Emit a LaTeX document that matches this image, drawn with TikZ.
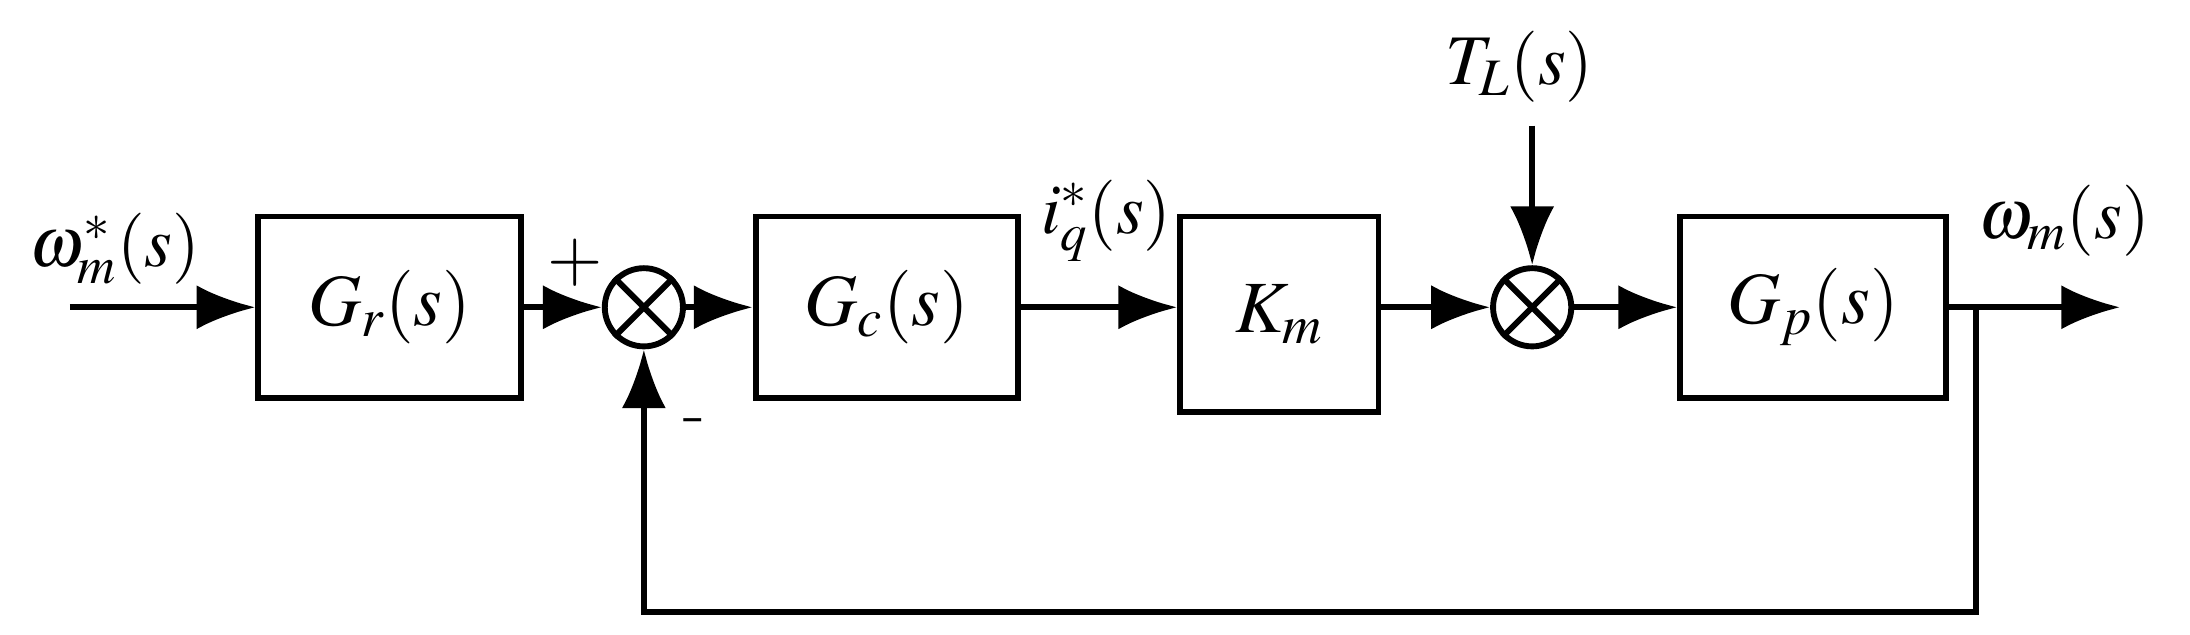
\documentclass[tikz,border=0pt]{standalone}
\usepackage{mathptmx}
\usepackage{tikz}
\usetikzlibrary{arrows.meta, positioning, calc}
\tikzset{block/.style={rectangle, draw=black, line width=2.4pt, minimum width=3.76cm, minimum height=2.6cm, font=\fontsize{30}{34}\selectfont},
  sumj/.style={circle, draw=black, line width=2.4pt, minimum size=1.12cm, inner sep=0pt},
  arrow/.style={line width=2.4pt, -{Latex[length=24pt,width=18pt]}},
  wire/.style={line width=2.4pt},
  lbl/.style={font=\fontsize{29}{34}\selectfont}}
\begin{document}
\begin{tikzpicture}[x=0.02cm, y=-0.02cm]
\useasboundingbox (0,0) rectangle (1568,454);
\node (gr) [block] at (279,220) {$G_r(s)$};
\node (sum1) [sumj] at (461,220) {};
\node (gc) [block] at (635,220) {$G_c(s)$};
\node (km) [block, minimum width=2.84cm, minimum height=2.8cm] at (916,225) {$K_m$};
\node (sum2) [sumj] at (1097,220) {};
\node (gp) [block, minimum width=3.8cm] at (1298,220) {$G_p(s)$};
\coordinate (in) at (50,220);
\coordinate (out) at (1518,220);
\coordinate (tap) at (1415,220);
\coordinate (tl) at (1097,90);
% crosses in the junctions
\foreach \s in {sum1,sum2}
  \draw [wire] (\s.north east) -- (\s.south west) (\s.north west) -- (\s.south east);
\draw [arrow] (in) -- (gr);
\draw [arrow] (gr) -- (sum1);
\draw [arrow] (sum1) -- (gc);
\draw [arrow] (gc) -- (km.west |- gc);
\draw [arrow] (km.east |- sum2) -- (sum2);
\draw [arrow] (sum2) -- (gp);
\draw [arrow] (gp) -- (out);
\draw [arrow] (tl) -- (sum2);
\draw [arrow] (tap) -- (1415,438) -- (461,438) -- (sum1);
\node [lbl] at (82,178) {$\omega_m^*(s)$};
\node [lbl] at (412,188) {$+$};
\node [lbl] at (497,306) {-};
\node [lbl] at (792,158) {$i_q^*(s)$};
\node [lbl] at (1088,48) {$T_L(s)$};
\node [lbl] at (1478,158) {$\omega_m(s)$};
\end{tikzpicture}
\end{document}
